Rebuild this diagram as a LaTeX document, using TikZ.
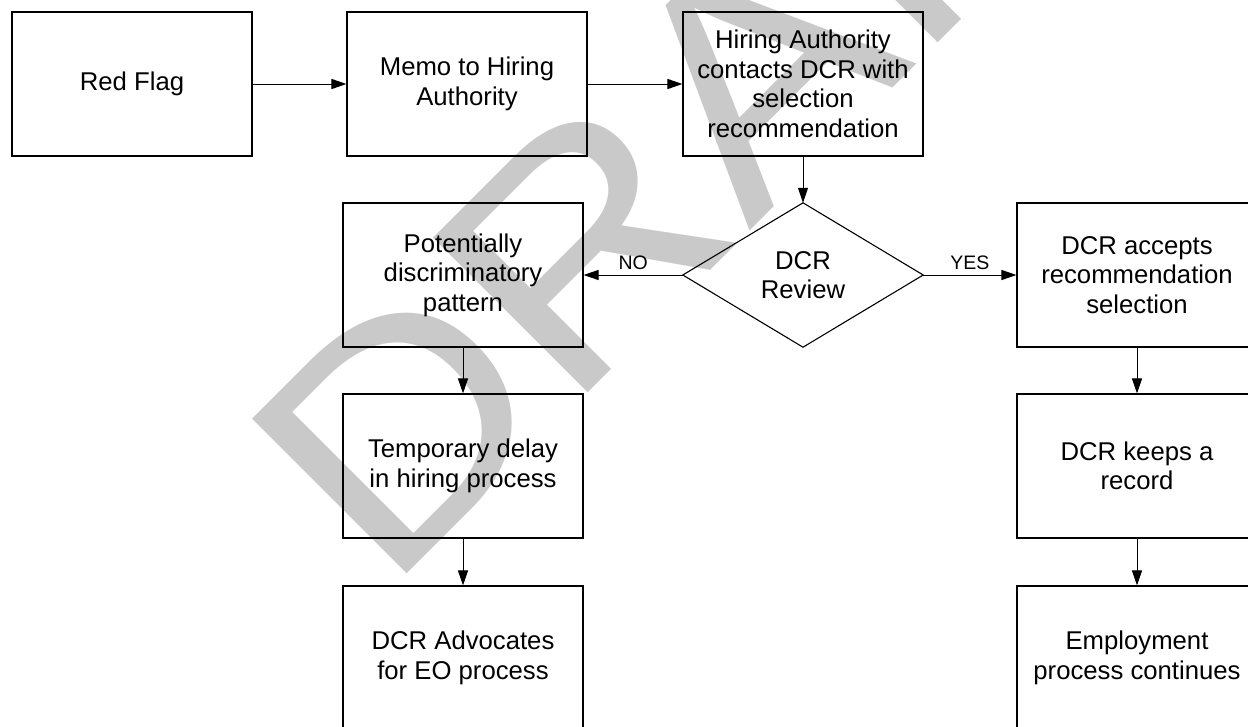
\documentclass[tikz,border=0pt]{standalone}
\usepackage{fontspec}
\setmainfont{Liberation Sans}
\usetikzlibrary{arrows.meta}
\tikzset{
  box/.style={draw=black, line width=1.1pt, minimum width=240pt, minimum height=144pt, inner sep=0pt, align=center, font=\fontsize{25.7}{29.5}\selectfont},
  dtext/.style={draw=none, minimum width=240pt, minimum height=144pt, inner sep=0pt, align=center, font=\fontsize{25.7}{29.5}\selectfont},
  conn/.style={draw=black, line width=1pt, -{Triangle[length=15pt,width=10pt]}},
  lbl/.style={font=\fontsize{19.5}{22}\selectfont, inner sep=0pt},
  wmark/.style={rotate=45, anchor=base west, inner sep=0pt, text=black!21, font=\fontsize{318}{318}\selectfont}
}
\begin{document}
\begin{tikzpicture}[x=1pt, y=-1pt]
\useasboundingbox (0,0) rectangle (1248,726);
\clip (0,0) rectangle (1248,726);
\fill[white] (0,0) rectangle (1248,726);
% watermark
\node[wmark] (wm) at (386,595) {\scalebox{1.12}[1]{DRAFT}};
% nodes
\node[box] (red)  at (132,84)  {Red Flag};
\node[box] (memo) at (467,84)  {Memo to Hiring\\Authority};
\node[box] (hire) at (803,84)  {Hiring Authority\\contacts DCR with\\selection\\recommendation};
\node[dtext] (rev) at (803,275) {DCR\\Review};
\draw[line width=1.1pt] (rev.north) -- (rev.east) -- (rev.south) -- (rev.west) -- cycle;
\node[box] (pot)  at (463,275) {Potentially\\discriminatory\\pattern};
\node[box] (acc)  at (1137,275) {DCR accepts\\recommendation\\selection};
\node[box] (temp) at (463,466) {Temporary delay\\in hiring process};
\node[box] (keep) at (1137,466) {DCR keeps a\\record};
\node[box] (adv)  at (463,658) {DCR Advocates\\for EO process};
\node[box] (emp)  at (1137,658) {Employment\\process continues};
% connectors
\draw[conn] (red) -- (memo);
\draw[conn] (memo) -- (hire);
\draw[conn] (hire) -- (rev.north);
\draw[conn] (rev.west) -- node[lbl, above=5pt] (no) {NO} (pot.east);
\draw[conn] (rev.east) -- node[lbl, above=5pt] (yes) {YES} (acc.west);
\draw[conn] (pot) -- (temp);
\draw[conn] (temp) -- (adv);
\draw[conn] (acc) -- (keep);
\draw[conn] (keep) -- (emp);
\end{tikzpicture}
\end{document}
